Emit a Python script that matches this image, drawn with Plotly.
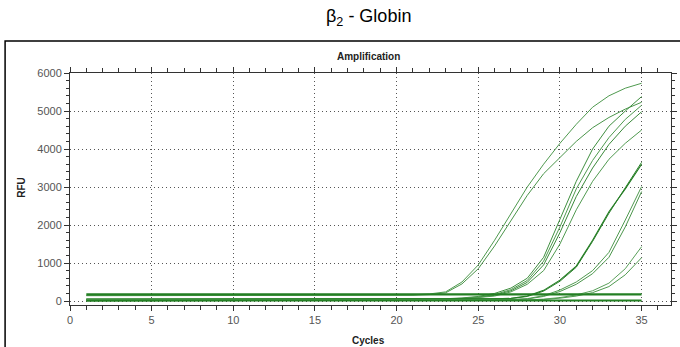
import plotly.graph_objects as go

cycles = list(range(1, 36))

# RFU values per well (cycles 1..35)
a1 = [150, 151, 150, 149, 150, 151, 150, 150, 149, 150, 151, 150, 150, 149, 150,
      151, 150, 150, 152, 155, 165, 185, 240, 500, 950, 1600, 2300, 3000, 3600, 4150,
      4650, 5100, 5400, 5600, 5730]
a2 = [140, 140, 141, 140, 139, 140, 140, 141, 140, 139, 140, 140, 141, 140, 139,
      140, 140, 141, 142, 145, 152, 170, 215, 450, 850, 1450, 2120, 2780, 3350, 3780,
      4200, 4560, 4830, 5050, 5230]
b1 = [45, 45, 46, 45, 44, 45, 45, 46, 45, 44, 45, 45, 46, 45, 44,
      45, 45, 46, 45, 46, 48, 52, 60, 80, 120, 200, 340, 600, 1150, 2150,
      3150, 4000, 4600, 5000, 5380]
b2 = [40, 40, 41, 40, 39, 40, 40, 41, 40, 39, 40, 40, 41, 40, 39,
      40, 40, 41, 40, 41, 42, 46, 54, 72, 105, 170, 300, 540, 1050, 1950,
      2950, 3700, 4300, 4780, 5150]
b3 = [35, 35, 36, 35, 34, 35, 35, 36, 35, 34, 35, 35, 36, 35, 34,
      35, 35, 36, 35, 36, 37, 40, 48, 64, 95, 150, 270, 490, 950, 1800,
      2750, 3500, 4120, 4600, 4980]
b4 = [30, 30, 31, 30, 29, 30, 30, 31, 30, 29, 30, 30, 31, 30, 29,
      30, 30, 31, 30, 31, 32, 35, 42, 58, 85, 130, 240, 440, 800, 1500,
      2400, 3150, 3730, 4150, 4500]
c1a = [50, 50, 51, 50, 49, 50, 50, 51, 50, 49, 50, 50, 51, 50, 49,
       50, 50, 51, 50, 49, 50, 50, 51, 50, 51, 55, 70, 130, 280, 550,
       920, 1600, 2350, 2950, 3600]
c1b = [48, 48, 49, 48, 47, 48, 48, 49, 48, 47, 48, 48, 49, 48, 47,
       48, 48, 49, 48, 47, 48, 48, 49, 48, 49, 52, 65, 120, 260, 520,
       890, 1570, 2310, 2980, 3650]
c2 = [30, 30, 31, 30, 29, 30, 30, 31, 30, 29, 30, 30, 31, 30, 29,
      30, 30, 31, 30, 29, 30, 30, 31, 30, 31, 32, 40, 62, 140, 290,
      500, 800, 1280, 2130, 3010]
c3 = [25, 25, 26, 25, 24, 25, 25, 26, 25, 24, 25, 25, 26, 25, 24,
      25, 25, 26, 25, 24, 25, 25, 26, 25, 26, 27, 33, 52, 120, 250,
      440, 720, 1150, 1950, 2880]
d1 = [20, 20, 21, 20, 19, 20, 20, 21, 20, 19, 20, 20, 21, 20, 19,
      20, 20, 21, 20, 19, 20, 20, 21, 20, 21, 20, 22, 28, 50, 90,
      160, 270, 470, 850, 1430]
d2 = [15, 15, 16, 15, 14, 15, 15, 16, 15, 14, 15, 15, 16, 15, 14,
      15, 15, 16, 15, 14, 15, 15, 16, 15, 16, 15, 17, 24, 40, 75,
      130, 220, 380, 690, 1140]
flat_hi = [175, 175, 175, 175, 175, 175, 175, 175, 175, 175, 175, 175, 175, 175, 175,
           175, 175, 175, 175, 175, 175, 175, 175, 175, 175, 175, 175, 175, 175, 175,
           175, 175, 175, 175, 175]
flat_lo = [10, 10, 10, 12, 14, 16, 16, 16, 16, 16, 16, 16, 16, 16, 16,
           16, 16, 16, 16, 16, 16, 16, 16, 16, 16, 16, 16, 16, 16, 16,
           16, 16, 16, 16, 16]

series = [
    (a1, "#4f9a4f", 1), (a2, "#4a954a", 1),
    (b1, "#3f8f3f", 1), (b2, "#4f9a4f", 1), (b3, "#3a8a3a", 1), (b4, "#509a50", 1),
    (c1a, "#1d7a1d", 1.1), (c1b, "#2a802a", 1), (c2, "#4f9a4f", 1), (c3, "#4a954a", 1),
    (d1, "#5aa05a", 1), (d2, "#4f9a4f", 1),
    (flat_hi, "#237f23", 2.2), (flat_lo, "#237f23", 2),
]

fig = go.Figure()
for ys, col, w in series:
    fig.add_trace(go.Scatter(x=cycles, y=ys, mode="lines",
                             line=dict(color=col, width=w), showlegend=False,
                             hoverinfo="skip"))

axis_font = dict(family="Liberation Sans, Arial, sans-serif", size=11, color="#555555")

fig.update_layout(
    width=680, height=347,
    margin=dict(l=70, r=9, t=73, b=42),
    paper_bgcolor="white", plot_bgcolor="white",
    font=dict(family="Liberation Sans, Arial, sans-serif"),
    xaxis=dict(range=[0, 36.8], tickvals=[0, 5, 10, 15, 20, 25, 30, 35],
               automargin=False,
               showgrid=True, gridcolor="#555555", griddash="1px,3px", gridwidth=1,
               showline=True, linecolor="#333333", linewidth=1, mirror="allticks",
               ticks="outside", ticklen=5, tickcolor="#333333", tickfont=axis_font,
               zeroline=False,
               minor=dict(dtick=1, ticks="outside", ticklen=4, tickcolor="#333333",
                          showgrid=False)),
    yaxis=dict(range=[-105, 6000], tickvals=[0, 1000, 2000, 3000, 4000, 5000, 6000],
               automargin=False,
               showgrid=True, gridcolor="#555555", griddash="1px,3px", gridwidth=1,
               showline=True, linecolor="#333333", linewidth=1, mirror="allticks",
               ticks="outside", ticklen=5, tickcolor="#333333", tickfont=axis_font,
               zeroline=False,
               minor=dict(dtick=200, ticks="outside", ticklen=3, tickcolor="#333333",
                          showgrid=False)),
    shapes=[dict(type="rect", xref="paper", yref="paper",
                 x0=-0.108, x1=1.03, y0=-0.25, y1=1.138,
                 line=dict(color="black", width=1.5), fillcolor="rgba(0,0,0,0)",
                 layer="below")],
    annotations=[
        dict(text="β<sub>2</sub> - Globin", xref="paper", yref="paper",
             x=0.497, y=1.241, xanchor="center", yanchor="middle", showarrow=False,
             font=dict(family="Liberation Sans, Arial, sans-serif", size=18, color="black")),
        dict(text="<b>Amplification</b>", xref="paper", yref="paper",
             x=0.497, y=1.069, xanchor="center", yanchor="middle", showarrow=False,
             font=dict(family="Liberation Sans, Arial, sans-serif", size=10, color="#222222")),
        dict(text="<b>RFU</b>", xref="paper", yref="paper",
             x=-0.08, y=0.509, xanchor="center", yanchor="middle", showarrow=False,
             textangle=-90,
             font=dict(family="Liberation Sans, Arial, sans-serif", size=10, color="#222222")),
        dict(text="<b>Cycles</b>", xref="paper", yref="paper",
             x=0.497, y=-0.151, xanchor="center", yanchor="middle", showarrow=False,
             font=dict(family="Liberation Sans, Arial, sans-serif", size=10, color="#222222")),
    ],
)

fig.write_html("out.html", config={"displayModeBar": False},
               post_script="document.body.style.margin='0';")
